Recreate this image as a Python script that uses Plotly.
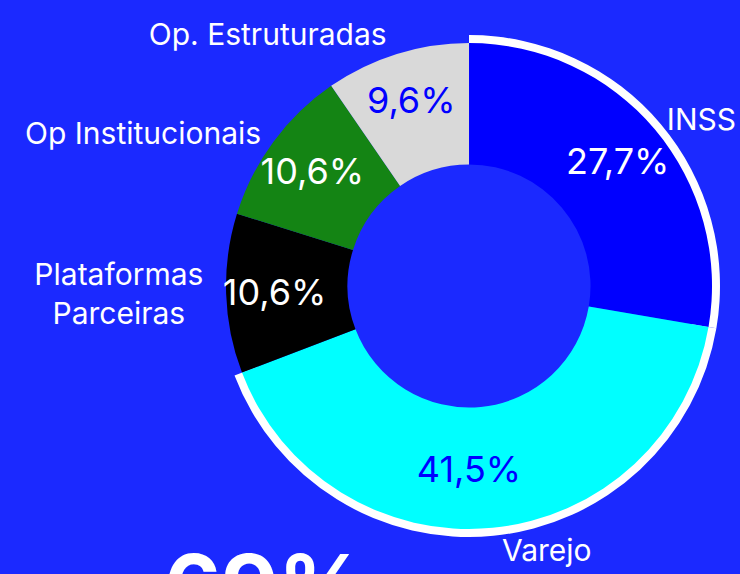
import plotly.graph_objects as go

labels = ["INSS", "Varejo", "Plataformas<br>Parceiras", "Op Institucionais", "Op. Estruturadas"]
values = [27.7, 41.5, 10.6, 10.6, 9.6]
colors = ["#0000ff", "#00ffff", "#000000", "#148414", "#d9d9d9"]
pct_colors = ["#ffffff", "#0000ff", "#ffffff", "#ffffff", "#0000ff"]
highlight = [True, True, False, False, False]
total_text = "69%"

bg = "#1b29ff"
font = "Inter"

main_domain = dict(x=[0.3054, 0.9622], y=[0.0784, 0.9251])
outer_domain = dict(x=[0.2946, 0.9730], y=[0.0645, 0.9390])
label_domain = dict(x=[0.3000, 0.9676], y=[0.0714, 0.9321])

common = dict(values=values, labels=labels, sort=False, direction="clockwise",
              rotation=0, showlegend=False)

fig = go.Figure()

# white outline arc behind the highlighted slices
fig.add_trace(go.Pie(
    **common,
    hole=0.9,
    marker=dict(colors=["#ffffff" if h else "rgba(0,0,0,0)" for h in highlight],
                line=dict(width=0)),
    textinfo="none",
    hoverinfo="skip",
    domain=outer_domain,
))

# category names outside
fig.add_trace(go.Pie(
    **common,
    hole=0.5,
    marker=dict(colors=["rgba(0,0,0,0)"] * len(values), line=dict(width=0)),
    textinfo="label",
    textposition="outside",
    outsidetextfont=dict(family=font, size=30, color="white"),
    hoverinfo="skip",
    domain=label_domain,
))

# main donut
fig.add_trace(go.Pie(
    **common,
    hole=0.5,
    marker=dict(colors=colors, line=dict(width=0)),
    textinfo="none",
    domain=main_domain,
))

# percentages, on a transparent ring a bit further out than the donut's middle
fig.add_trace(go.Pie(
    **common,
    hole=0.55,
    marker=dict(colors=["rgba(0,0,0,0)"] * len(values), line=dict(width=0)),
    texttemplate="%{percent:.1%}",
    textposition="inside",
    insidetextorientation="horizontal",
    insidetextfont=dict(family=font, size=36, color=pct_colors),
    hoverinfo="skip",
    domain=outer_domain,
))

fig.add_annotation(
    text="<b>" + total_text + "</b>",
    x=0.36, y=0.075, xref="paper", yref="paper",
    xanchor="center", yanchor="top",
    showarrow=False,
    font=dict(family=font, size=88, color="white"),
)

fig.update_layout(
    width=740,
    height=574,
    margin=dict(l=0, r=0, t=0, b=0),
    paper_bgcolor=bg,
    plot_bgcolor=bg,
    separators=",.",
    showlegend=False,
)

fig.write_html("out.html", config={"displayModeBar": False},
               post_script="document.body.style.margin='0';")
